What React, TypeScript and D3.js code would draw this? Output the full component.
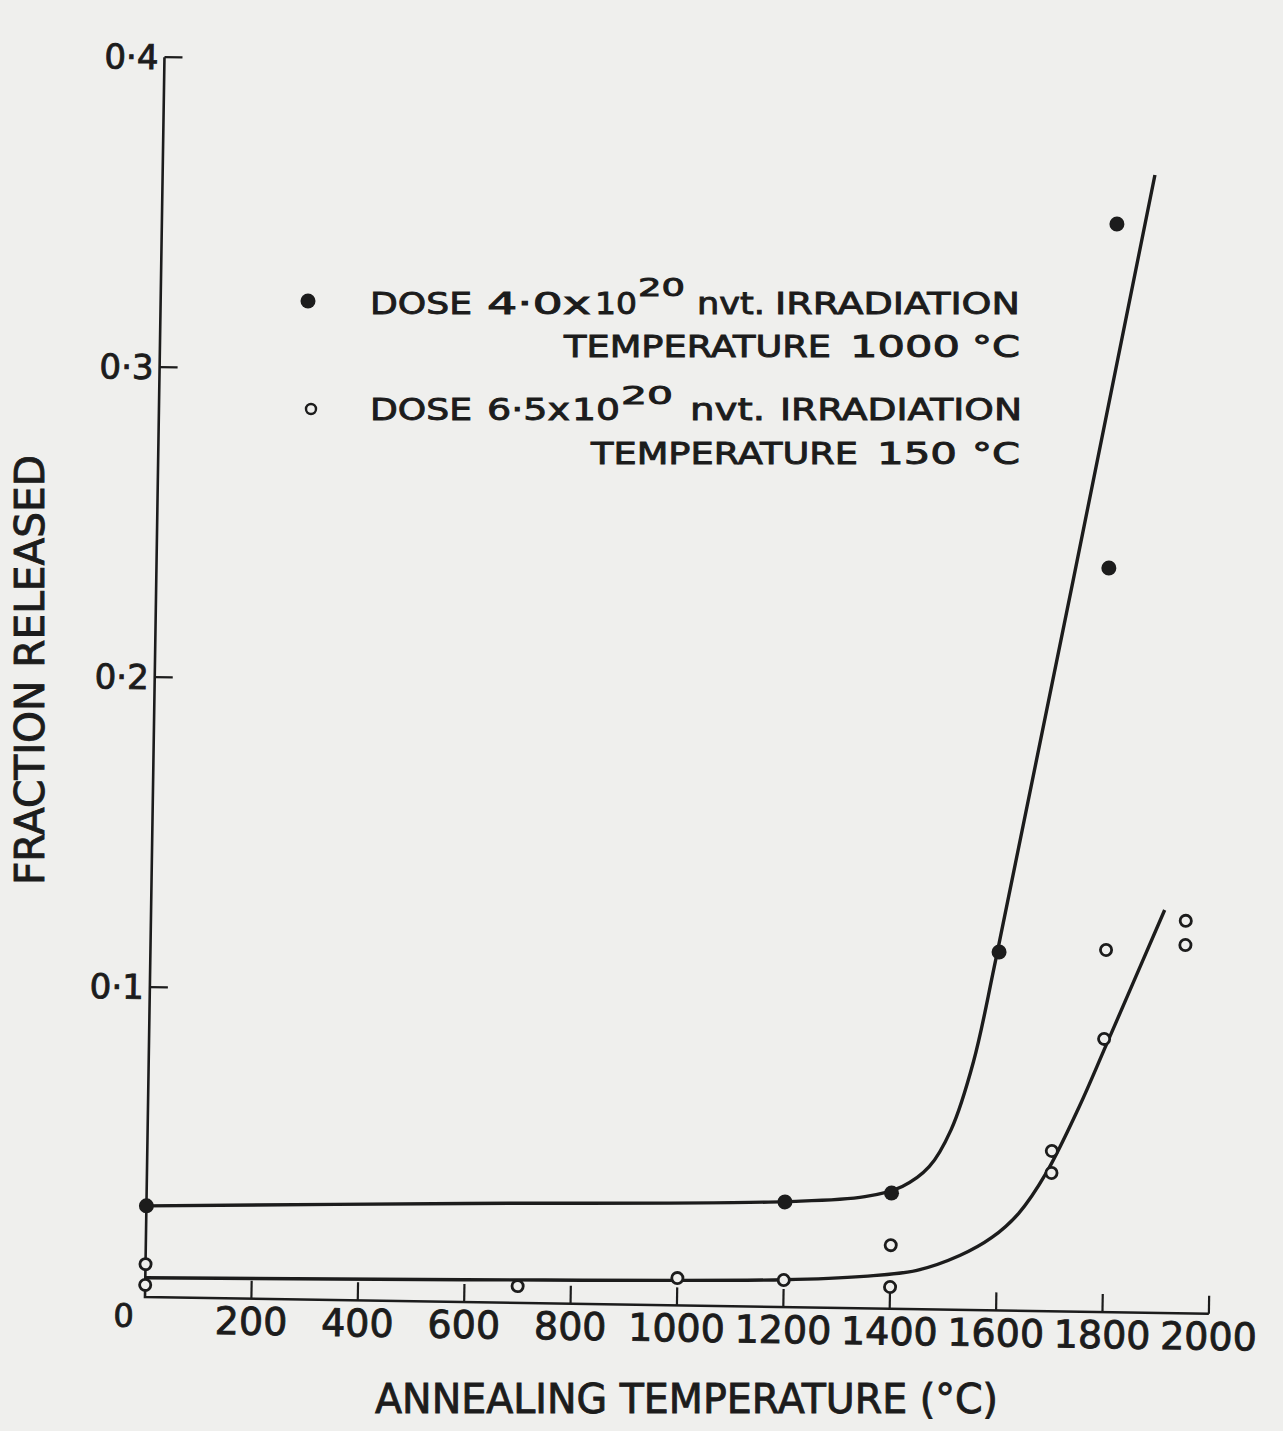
import React from "react";
import * as d3 from "d3";

// ---- axis ticks ----
const xTickValues = [200, 400, 600, 800, 1000, 1200, 1400, 1600, 1800, 2000];
const xTickLabels = ["200", "400", "600", "800", "1000", "1200", "1400", "1600", "1800", "2000"];
const yTickValues = [0.1, 0.2, 0.3, 0.4];
const yTickLabels = ["0·1", "0·2", "0·3", "0·4"];

// ---- data: dose 4.0x10^20 nvt, irradiation 1000 °C (filled) ----
const filledTemp = [0, 1200, 1400, 1595, 1790, 1795];
const filledFrac = [0.0294, 0.0339, 0.0373, 0.1156, 0.24, 0.351];

// ---- data: dose 6.5x10^20 nvt, irradiation 150 °C (open) ----
const openTemp = [0, 0, 700, 1000, 1200, 1400, 1400, 1700, 1700, 1795, 1796, 1945, 1945];
const openFrac = [0.0106, 0.0039, 0.0054, 0.0088, 0.0087, 0.0205, 0.007, 0.0517, 0.0446, 0.0881, 0.1168, 0.1266, 0.1188];

// ---- hand-drawn fitted curves ----
const fitFilledTemp = [0, 600, 1200, 1350, 1420, 1470, 1510, 1550, 1590, 1865];
const fitFilledFrac = [0.0294, 0.0318, 0.034, 0.036, 0.0395, 0.046, 0.058, 0.08, 0.114, 0.367];
const fitOpenTemp = [0, 600, 1200, 1350, 1450, 1530, 1590, 1640, 1690, 1750, 1800, 1905];
const fitOpenFrac = [0.0062, 0.0072, 0.0088, 0.0103, 0.0125, 0.0175, 0.0235, 0.0315, 0.0445, 0.066, 0.0865, 0.13];

// ---- text ----
const yTitle = "FRACTION RELEASED";
const xTitle = "ANNEALING TEMPERATURE (°C)";
const legend1 = ["DOSE", "4·0x", "10", "20", "nvt.", "IRRADIATION", "TEMPERATURE", "1000", "°C"];
const legend2 = ["DOSE", "6·5x", "10", "20", "nvt.", "IRRADIATION", "TEMPERATURE", "150", "°C"];

const INK = "#1c1c1c";
const PAPER = "#efefed";
const FONT = "'DejaVu Sans', sans-serif";
const TXT_STROKE = 0.9;

export default function App() {
  const W = 1283;
  const H = 1431;
  const ox = 145;
  const oy = 1297;
  const tilt = 0.9;

  const x = d3.scaleLinear().domain([0, 2000]).range([0, 1064]);
  const y = d3.scaleLinear().domain([0, 0.4]).range([0, -1240]);

  const line = d3
    .line<[number, number]>()
    .x((d) => x(d[0]))
    .y((d) => y(d[1]))
    .curve(d3.curveCatmullRom.alpha(0.5));

  const filledFit = line(fitFilledTemp.map((t, i) => [t, fitFilledFrac[i]] as [number, number])) || "";
  const openFit = line(fitOpenTemp.map((t, i) => [t, fitOpenFrac[i]] as [number, number])) || "";

  const textProps = {
    fill: INK,
    stroke: INK,
    strokeWidth: TXT_STROKE,
    fontFamily: FONT,
  };

  const seg = (
    txt: string,
    x0: number,
    x1: number,
    yb: number,
    fs: number,
    key: string
  ) => (
    <text
      key={key}
      x={x0}
      y={yb}
      fontSize={fs}
      textLength={x1 - x0}
      lengthAdjust="spacingAndGlyphs"
      {...textProps}
    >
      {txt}
    </text>
  );

  return (
    <svg
      width={W}
      height={H}
      viewBox={`0 0 ${W} ${H}`}
      style={{ position: "absolute", left: 0, top: 0, display: "block" }}
    >
      <rect x={0} y={0} width={W} height={H} fill={PAPER} />

      <g transform={`translate(${ox},${oy}) rotate(${tilt})`}>
        {/* axes */}
        <path
          d={`M${x(0)},${y(0.4)} L${x(0)},${y(0)} L${x(2000)},${y(0)}`}
          fill="none"
          stroke={INK}
          strokeWidth={2.6}
        />
        {xTickValues.map((t) => (
          <line key={"xt" + t} x1={x(t)} x2={x(t)} y1={0} y2={-18} stroke={INK} strokeWidth={2.2} />
        ))}
        {yTickValues.map((t) => (
          <line key={"yt" + t} x1={0} x2={18} y1={y(t)} y2={y(t)} stroke={INK} strokeWidth={2.2} />
        ))}
        {xTickValues.map((t, i) => (
          <text key={"xl" + t} x={x(t)} y={36} fontSize={38} textAnchor="middle" {...textProps}>
            {xTickLabels[i]}
          </text>
        ))}
        <text x={-21} y={30} fontSize={32} textAnchor="middle" {...textProps}>
          0
        </text>
        {yTickValues.map((t, i) => (
          <text key={"yl" + t} x={-6} y={y(t) + 12} fontSize={34} textAnchor="end" {...textProps}>
            {yTickLabels[i]}
          </text>
        ))}

        {/* fitted curves */}
        <path d={filledFit} fill="none" stroke={INK} strokeWidth={3.4} />
        <path d={openFit} fill="none" stroke={INK} strokeWidth={3.4} />

        {/* points */}
        {filledTemp.map((t, i) => (
          <circle key={"f" + i} cx={x(t)} cy={y(filledFrac[i])} r={7.5} fill={INK} />
        ))}
        {openTemp.map((t, i) => (
          <circle
            key={"o" + i}
            cx={x(t)}
            cy={y(openFrac[i])}
            r={5.6}
            fill={PAPER}
            stroke={INK}
            strokeWidth={2.8}
          />
        ))}
      </g>

      {/* legend */}
      <circle cx={308} cy={301} r={7.5} fill={INK} />
      {seg(legend1[0], 370, 472, 314, 30, "a0")}
      {seg(legend1[1], 487, 591, 314, 30, "a1")}
      {seg(legend1[2], 595, 637, 314, 30, "a2")}
      {seg(legend1[3], 638, 685, 296, 24, "a3")}
      {seg(legend1[4], 697, 765, 314, 30, "a4")}
      {seg(legend1[5], 775, 1020, 314, 30, "a5")}
      {seg(legend1[6], 564, 831, 357, 30, "a6")}
      {seg(legend1[7], 850, 960, 357, 30, "a7")}
      {seg(legend1[8], 972, 1020, 357, 30, "a8")}

      <circle cx={311} cy={409} r={5} fill="none" stroke={INK} strokeWidth={2.4} />
      {seg(legend2[0], 370, 472, 420, 30, "b0")}
      {seg(legend2[1], 487, 570, 420, 30, "b1")}
      {seg(legend2[2], 572, 620, 420, 30, "b2")}
      {seg(legend2[3], 621, 673, 404, 24, "b3")}
      {seg(legend2[4], 690, 765, 420, 30, "b4")}
      {seg(legend2[5], 780, 1022, 420, 30, "b5")}
      {seg(legend2[6], 591, 858, 464, 30, "b6")}
      {seg(legend2[7], 877, 957, 464, 30, "b7")}
      {seg(legend2[8], 972, 1020, 464, 30, "b8")}

      {/* axis titles */}
      <text
        transform="translate(44,670) rotate(-90)"
        fontSize={40}
        textAnchor="middle"
        textLength={430}
        lengthAdjust="spacingAndGlyphs"
        {...textProps}
      >
        {yTitle}
      </text>
      <text
        x={375}
        y={1413}
        fontSize={40}
        textLength={623}
        lengthAdjust="spacingAndGlyphs"
        {...textProps}
      >
        {xTitle}
      </text>
    </svg>
  );
}
